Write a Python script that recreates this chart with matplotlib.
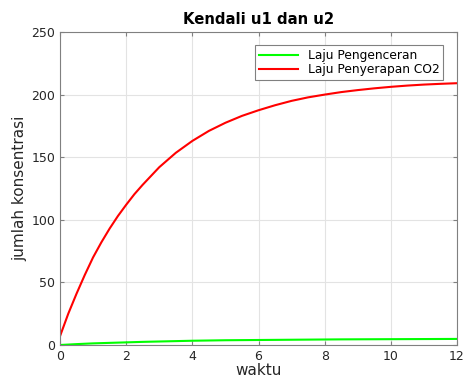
import numpy as np
import matplotlib
matplotlib.use("Agg")
import matplotlib.pyplot as plt

# values
waktu = [0, 0.25, 0.5, 0.75, 1, 1.25, 1.5, 1.75, 2, 2.25, 2.5, 2.75, 3, 3.5, 4,
         4.5, 5, 5.5, 6, 6.5, 7, 7.5, 8, 8.5, 9, 9.5, 10, 10.5, 11, 11.5, 12]
laju_penyerapan = [7, 25, 41, 56, 70, 82, 93, 103, 112, 120.5, 128, 135, 142,
                   153.5, 163, 171, 177.5, 183, 187.5, 191.5, 195, 197.8, 200,
                   202, 203.6, 205, 206.2, 207.2, 208, 208.6, 209.1]
laju_pengenceran = [0, 0.35, 0.7, 1.0, 1.3, 1.5, 1.7, 1.9, 2.1, 2.3, 2.5, 2.65, 2.8,
                    3.1, 3.4, 3.6, 3.8, 3.9, 4.0, 4.1, 4.2, 4.3, 4.4, 4.5, 4.55,
                    4.6, 4.65, 4.7, 4.75, 4.8, 4.85]

fig = plt.figure(figsize=(4.64, 3.85), dpi=100)
ax = fig.add_axes([0.1293, 0.1039, 0.8557, 0.813])

ax.plot(waktu, laju_pengenceran, color="#00ff00", linewidth=1.5, label="Laju Pengenceran")
ax.plot(waktu, laju_penyerapan, color="#ff0000", linewidth=1.5, label="Laju Penyerapan CO2")

ax.set_xlim(0, 12)
ax.set_ylim(0, 250)
ax.set_xticks(range(0, 13, 2))
ax.set_yticks(range(0, 251, 50))
ax.grid(True, color="#e3e3e3", linewidth=0.8)
ax.tick_params(direction="in", top=True, right=True, length=3, color="#808080",
               labelsize=9, labelcolor="#262626")
for s in ax.spines.values():
    s.set_color("#808080")

ax.set_title("Kendali u1 dan u2", fontsize=10.7, fontweight="bold", pad=6)
ax.set_xlabel("waktu", fontsize=11, color="#262626", labelpad=0)
ax.set_ylabel("jumlah konsentrasi", fontsize=11, color="#262626", labelpad=3)

leg = ax.legend(loc="upper right", fontsize=8.8, fancybox=False, framealpha=1,
                edgecolor="#808080", borderpad=0.3, handlelength=3.2,
                labelspacing=0.1, borderaxespad=0,
                bbox_to_anchor=(0.965, 0.958))
leg.get_frame().set_linewidth(0.8)

fig.savefig("out.png", dpi=100)
